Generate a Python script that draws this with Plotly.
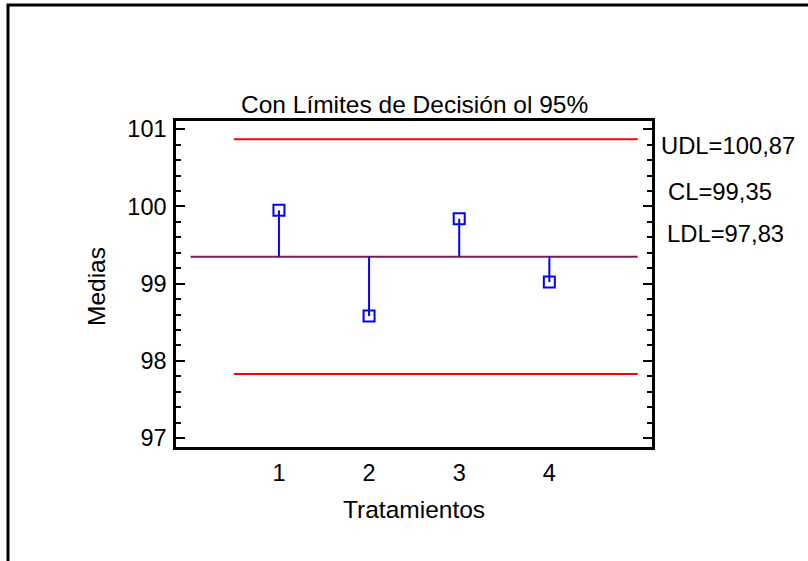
import plotly.graph_objects as go

# Treatment means and ANOM decision limits
treatments = [1, 2, 3, 4]
tick_labels = ["1", "2", "3", "4"]
means = [99.95, 98.58, 99.84, 99.02]
center_line = 99.35
upper_limit = 100.87
lower_limit = 97.83

title_text = "Con Límites de Decisión ol 95%"
x_title = "Tratamientos"
y_title = "Medias"

FONT = "Liberation Sans, Arial, sans-serif"
W, H = 808, 561
L, R, T, B = 176, 156, 121, 114

fig = go.Figure()

# Upper and lower decision limits
for lim in (upper_limit, lower_limit):
    fig.add_trace(go.Scatter(x=[0.5, 4.98], y=[lim, lim], mode="lines",
                             line=dict(color="#ff0000", width=2),
                             hoverinfo="skip", showlegend=False))

# Centre line
fig.add_trace(go.Scatter(x=[0.02, 4.98], y=[center_line, center_line], mode="lines",
                         line=dict(color="#801a50", width=2),
                         hoverinfo="skip", showlegend=False))

# Stems from the centre line to each mean
sx, sy = [], []
for t, m in zip(treatments, means):
    sx += [t, t, None]
    sy += [center_line, m, None]
fig.add_trace(go.Scatter(x=sx, y=sy, mode="lines",
                         line=dict(color="#0000ff", width=2),
                         hoverinfo="skip", showlegend=False))

# Means
fig.add_trace(go.Scatter(x=treatments, y=means, mode="markers",
                         marker=dict(symbol="square-open", size=11,
                                     color="#0000ff", line=dict(width=2, color="#0000ff")),
                         showlegend=False))


def fmt(v):
    return f"{v:.2f}".replace(".", ",")


def px_x(p):
    return (p - L) / (W - L - R)


def px_y(p):
    return (H - B - p) / (H - B - T)


annotations = [
    dict(text=title_text, x=0.5, y=px_y(104), xanchor="center", yanchor="middle",
         font=dict(size=24.5)),
    dict(text=x_title, x=0.5, y=px_y(509), xanchor="center", yanchor="middle",
         font=dict(size=24.5)),
    dict(text=y_title, x=px_x(96), y=px_y(287), xanchor="center", yanchor="middle",
         textangle=-90, font=dict(size=24.5)),
    dict(text=f"UDL={fmt(upper_limit)}", x=px_x(659), y=px_y(145), xanchor="left",
         yanchor="middle", font=dict(size=23.8)),
    dict(text=f"CL={fmt(center_line)}", x=px_x(666), y=px_y(191), xanchor="left",
         yanchor="middle", font=dict(size=23.8)),
    dict(text=f"LDL={fmt(lower_limit)}", x=px_x(665), y=px_y(233), xanchor="left",
         yanchor="middle", font=dict(size=23.8)),
]
for a in annotations:
    a.update(xref="paper", yref="paper", showarrow=False)

fig.update_layout(
    width=W, height=H,
    margin=dict(l=L, r=R, t=T, b=B, pad=0),
    paper_bgcolor="white", plot_bgcolor="white",
    font=dict(family=FONT, color="black", size=23.5),
    annotations=annotations,
    shapes=[dict(type="rect", xref="paper", yref="paper",
                 x0=px_x(8), x1=px_x(830), y0=px_y(580), y1=px_y(5),
                 line=dict(color="black", width=3), fillcolor="rgba(0,0,0,0)",
                 layer="above")],
)

fig.update_xaxes(
    range=[-0.142, 5.139], tickmode="array", tickvals=treatments, ticktext=tick_labels,
    ticks="", showgrid=False, zeroline=False, showline=True, linecolor="black",
    linewidth=2.5, mirror=True, ticklabelstandoff=3,
    tickfont=dict(size=23.5),
)
fig.update_yaxes(
    range=[96.884, 101.107], tickmode="linear", tick0=97, dtick=1,
    ticks="inside", ticklen=9, tickwidth=2, tickcolor="black",
    minor=dict(ticks="inside", ticklen=5, tickwidth=2, tickcolor="black", dtick=0.2),
    showgrid=False, zeroline=False, showline=True, linecolor="black",
    linewidth=2.5, mirror="ticks", ticklabelstandoff=2,
    tickfont=dict(size=23.5),
)

fig.write_html("out.html")
